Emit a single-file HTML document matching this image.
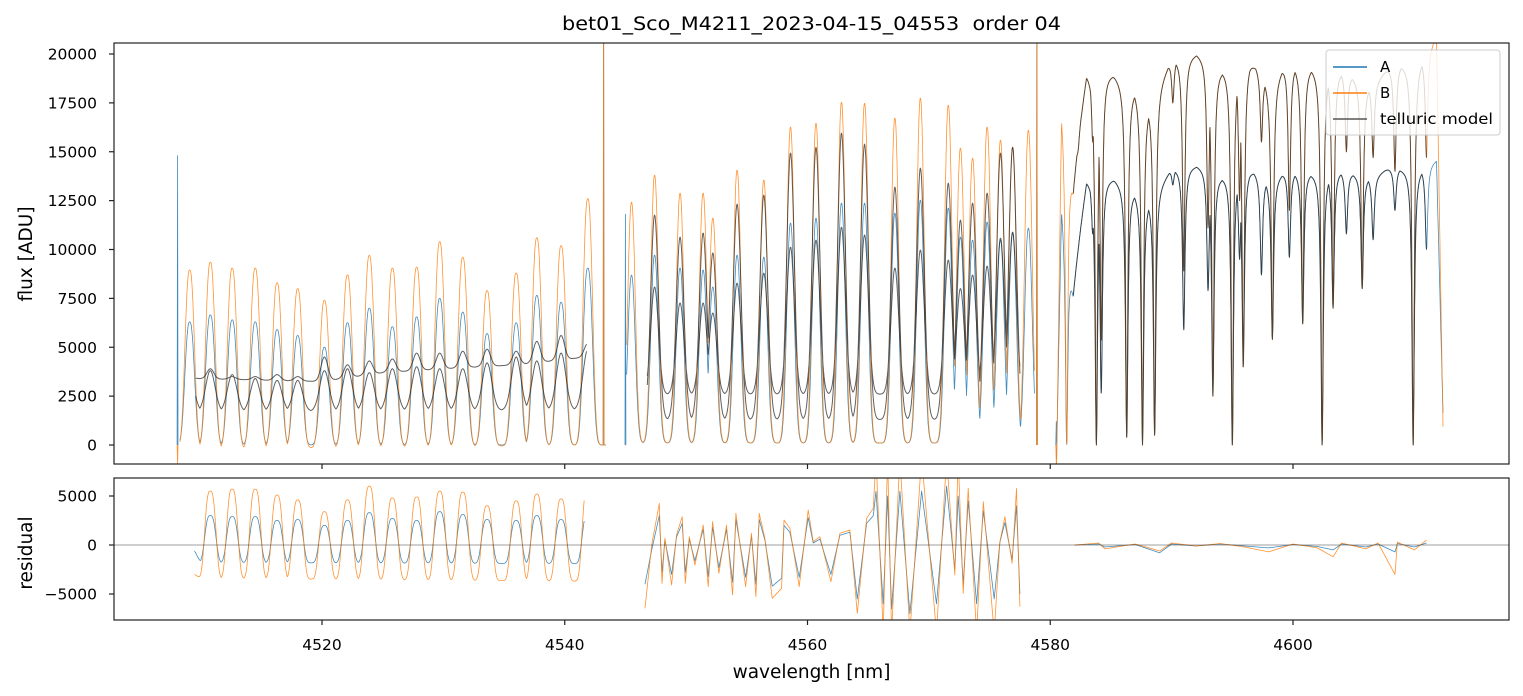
<!DOCTYPE html>
<html><head><meta charset="utf-8"><style>
html,body{margin:0;padding:0;background:#fff}
svg{display:block;font-family:"DejaVu Sans","Liberation Sans",sans-serif}
</style></head><body>
<svg id="chart" width="1523" height="696" viewBox="0 0 1523 696" xmlns="http://www.w3.org/2000/svg">
<defs>
<clipPath id="clipTop"><rect x="114" y="43" width="1395" height="421"/></clipPath>
<clipPath id="clipBot"><rect x="114" y="478" width="1395" height="142"/></clipPath>
</defs>
<text x="811.5" y="30" text-anchor="middle" font-size="18.5" textLength="499" lengthAdjust="spacingAndGlyphs" fill="#000">bet01_Sco_M4211_2023-04-15_04553&#160; order 04</text>
<text transform="translate(32,254) rotate(-90)" text-anchor="middle" font-size="18.5" fill="#000">flux [ADU]</text>
<text transform="translate(32,553) rotate(-90)" text-anchor="middle" font-size="18.5" fill="#000">residual</text>
<text x="811.5" y="678" text-anchor="middle" font-size="18.5" fill="#000">wavelength [nm]</text>
<g id="topData" clip-path="url(#clipTop)"></g>
<g id="botData" clip-path="url(#clipBot)"></g>
<g id="axes"></g>
<g>
<rect x="1326" y="50" width="174" height="85" rx="3" fill="#fff" fill-opacity="0.8" stroke="#ccc" stroke-width="1"/>
<line x1="1333" y1="67" x2="1367" y2="67" stroke="#1f77b4" stroke-width="1.5"/>
<text x="1380" y="72" font-size="15">A</text>
<line x1="1333" y1="93" x2="1367" y2="93" stroke="#ff7f0e" stroke-width="1.5"/>
<text x="1380" y="98" font-size="15">B</text>
<line x1="1333" y1="119" x2="1367" y2="119" stroke="#555" stroke-width="1.5"/>
<text x="1380" y="124" font-size="15" textLength="113" lengthAdjust="spacingAndGlyphs">telluric model</text>
</g>
</svg>
<script>
const xTicks = [4520, 4540, 4560, 4580, 4600];
const yTicksTop = [0, 2500, 5000, 7500, 10000, 12500, 15000, 17500, 20000];
const yTicksBot = [-5000, 0, 5000];

const r1Wl = [4509.1,4510.8,4512.6,4514.5,4516.3,4518.0,4520.2,4522.1,4523.9,4525.8,4527.8,4529.7,4531.6,4533.6,4536.0,4537.7,4539.7,4541.9];
const r1B = [8950,9350,9050,9050,8300,8000,7400,8700,9700,9050,9100,10400,9600,7900,8800,10600,10200,12600];
const r1A = [6300,6650,6400,6300,5900,5600,5000,6250,7000,6050,6550,7500,6800,5700,6250,7650,7300,9050];
const r1BaseWl = [4508.3,4543.4];
const r1BaseA = [0,0];
const r1BaseB = [-200,0];
const r1ModelLo = [3500,3800,3600,3400,3300,3300,3800,3900,3700,3900,4000,3900,3900,4200,4500,4300,4700,4900];
const r1ModelHi = [3500,3900,3500,3500,3600,3500,4500,4100,4300,4400,4700,4700,4800,4900,4800,5300,5600,5200];
const r1ModelLoBaseWl = [4509.6,4541.8];
const r1ModelLoBase = [1700,1800];
const r1ModelHiBaseWl = [4509.6,4520,4525,4530,4536,4541.8];
const r1ModelHiBase = [3400,3250,3700,3900,4100,4500];

const r2Wl = [4545.5,4547.4,4549.5,4551.4,4552.2,4554.2,4556.4,4558.6,4560.7,4562.8,4564.7,4567.2,4569.3,4571.6,4572.6,4573.6,4574.8,4575.9,4576.9,4578.2];
const r2B = [12420,13800,12880,12880,11600,14060,13550,16260,16460,17530,17480,16720,17740,17380,15180,14670,16260,15590,15230,16100];
const r2A = [8690,9710,9050,8950,8080,9710,9610,11350,11600,12370,12370,11860,12520,12120,10630,10480,11400,10480,10840,11090];
const r2BaseWl = [4545.0,4578.7];
const r2BaseA = [100,100];
const r2BaseB = [100,100];
const r2ModelWl = [4547.4,4549.5,4551.4,4552.2,4554.2,4556.4,4558.6,4560.7,4562.8,4564.7,4567.2,4569.3,4571.6,4572.6,4573.6,4574.8,4575.9,4576.9];
const r2ModelHi = [11760,10630,10840,9820,12320,12780,14930,15230,15950,15390,13190,14160,13390,11500,12370,12880,14930,15230];
const r2ModelLo = [8080,7260,7260,6750,8280,8790,10120,10480,11140,10740,9050,9970,9460,8000,8690,9150,10580,10890];
const r2ModelBaseWl = [4546.8,4577.5];
const r2ModelHiBase = [1300,1300];
const r2ModelLoBase = [2600,2600];

const r3ContWl = [4580.52,4580.93,4581.89,4582.99,4585.32,4587.11,4588.07,4590.0,4592.05,4594.11,4596.44,4598.09,4599.46,4601.52,4603.85,4606.6,4607.83,4610.72,4611.82,4612.37];
const r3ContB = [-900,17740,13550,19170,19000,18300,17640,19780,20040,19320,19830,18500,19580,19420,19250,18400,19320,19900,21000,610];
const r3ContA = [-500,12680,8080,13650,13650,13000,12680,14160,14310,13800,14160,13550,14050,13970,14050,13720,14160,14240,14600,1430];
const r3DipWl = [4581.35,4582.3,4583.5,4583.8,4584.2,4586.3,4587.6,4588.6,4590.1,4591.0,4593.0,4593.4,4595.0,4595.6,4595.9,4597.4,4598.3,4599.7,4600.8,4602.4,4603.3,4604.4,4605.7,4606.6,4608.4,4609.9,4611.0];
const r3DipB = [0,15080,15500,0,5370,400,0,500,17500,8900,11100,2500,0,12500,4000,15500,5400,12000,6200,0,7000,15000,8000,14700,14000,0,14700];
const r3DipA = [0,10630,10800,0,2660,400,0,500,13300,5900,7900,2500,0,9500,4000,8700,5400,9600,6200,0,7000,10800,8000,10500,12000,0,10000];

const spikeWl = [4508.1,4543.2,4545.0,4578.9,4580.5];
const spikeA = [14800,25000,11800,25000,1200];
const spikeB = [-1000,25000,0,25000,-1000];

const res1Wl = [4510.8,4512.6,4514.5,4516.3,4518.0,4520.2,4522.1,4523.9,4525.8,4527.8,4529.7,4531.6,4533.6,4536.0,4537.7,4539.7,4541.9];
const res1B = [5500,5700,5700,5100,4600,3400,4600,6000,4800,4900,5500,5400,4000,4500,5200,4700,6000];
const res1A = [3000,2900,2900,2500,2600,2000,2500,3300,2700,2500,3400,3100,2600,2500,3000,2600,3200];
const res1BaseWl = [4509.5,4510,4541.6];
const res1BaseB = [-3000,-3400,-3700];
const res1BaseA = [-600,-1800,-1900];

const res2Wl = [4546.61,4547.16,4547.79,4548.01,4548.25,4548.80,4549.21,4549.68,4549.93,4550.26,4550.72,4551.41,4551.82,4552.18,4552.70,4553.33,4553.83,4554.10,4554.90,4555.39,4555.75,4556.02,4556.49,4557.09,4557.87,4558.06,4558.55,4559.32,4560.06,4560.47,4561.02,4561.93,4562.67,4563.49,4564.10,4564.87,4565.42,4565.64,4566.24,4566.60,4566.93,4567.61,4568.44,4569.40,4570.63,4571.46,4572.14,4572.42,4572.83,4573.24,4573.93,4574.48,4575.38,4575.85,4576.26,4576.86,4577.22,4577.50];
const res2B = [-6460,0,4250,-3910,680,-4080,1020,2890,-3910,850,-2040,2040,-4250,2380,-2890,2040,-5100,3230,-4250,1190,-5270,3230,680,-5440,-4420,2550,1700,-4250,3570,340,850,-3740,1190,1530,-6970,2720,3740,9000,-9000,9000,-9000,9000,-9000,9000,-9000,9000,-3060,9000,-4930,5780,-9000,4420,-9000,340,2890,-1870,5780,-6290];
const res2A = [-4000,-500,3000,-2800,500,-3000,800,2200,-2800,600,-1600,1600,-3200,1800,-2300,1600,-3800,2600,-3300,900,-4000,2600,500,-4200,-3400,2000,1300,-3300,2800,200,600,-3000,1000,1300,-5500,2200,3000,5500,-6000,5000,-6500,5500,-7000,5500,-6000,6000,-2500,5000,-4000,4500,-6000,3500,-5500,300,2300,-1500,4000,-5000];

const res3Wl = [4582.0,4584.0,4584.5,4587.0,4589.0,4590.0,4592.0,4594.0,4596.0,4598.0,4600.0,4602.0,4603.3,4604.0,4606.0,4607.0,4608.4,4608.6,4610.0,4611.0];
const res3B = [0,200,-400,100,-600,200,-100,150,-200,-700,100,-300,-1200,200,-400,200,-3000,300,-500,500];
const res3A = [0,100,-200,50,-800,100,-100,100,-100,-300,50,-150,-500,100,-200,100,-700,150,-200,200];

const NS = 'http://www.w3.org/2000/svg';
const X0 = 114, WL0 = 4502.863, PXNM = 12.1375;
function xs(w){ return X0 + (w - WL0) * PXNM; }
function yt(v){ return 445 - v * 391 / 20000; }
function yb(v){ return 545 - v * 49 / 5000; }
function interp(wl, vals, x){
  if (x <= wl[0]) return vals[0];
  for (let i = 1; i < wl.length; i++) if (x <= wl[i]) { const t = (x - wl[i-1]) / (wl[i] - wl[i-1]); return vals[i-1] + t * (vals[i] - vals[i-1]); }
  return vals[vals.length - 1];
}
function peaks(x, wl, pk, bWl, bV, s, p){
  const b = interp(bWl, bV, x); let m = 0;
  for (let i = 0; i < wl.length; i++){ const d = Math.abs((x - wl[i]) / s); if (d > 4) continue; const a = (pk[i] - b) * Math.exp(-Math.pow(d, p)); if (a > m) m = a; }
  return b + m;
}
function dips(x, cWl, cV, wl, dv, s){
  const c = interp(cWl, cV, x); let m = 0;
  for (let i = 0; i < wl.length; i++){ const d = (x - wl[i]) / s; if (Math.abs(d) > 20) continue; const a = (interp(cWl, cV, wl[i]) - dv[i]) / (1 + d*d); if (a > m) m = a; }
  return c - m;
}
function pathFrom(fn, w0, w1, ys){
  let d = ''; const step = 0.02;
  for (let w = w0; w <= w1 + 1e-9; w += step){ d += (d ? 'L' : 'M') + xs(w).toFixed(1) + ',' + ys(fn(w)).toFixed(1); }
  return d;
}
function knotPath(wl, v, ys){ return wl.map((w,i)=> (i?'L':'M') + xs(w).toFixed(1) + ',' + ys(v[i]).toFixed(1)).join(''); }
function addPath(parent, d, color, width, op, name){
  const p = document.createElementNS(NS, 'path');
  p.setAttribute('d', d); p.setAttribute('fill', 'none'); p.setAttribute('stroke', color);
  p.setAttribute('stroke-width', width); p.setAttribute('stroke-opacity', op); p.setAttribute('stroke-linejoin', 'round');
  
  
  parent.appendChild(p);
}
const topG = document.getElementById('topData');
const botG = document.getElementById('botData');
const CA = '#1f77b4', CB = '#ff7f0e', CM = '#222';

function drawSeries(which){
  const isA = which === 'A';
  const col = isA ? CA : CB;
  let d = pathFrom(w => peaks(w, r1Wl, isA ? r1A : r1B, r1BaseWl, isA ? r1BaseA : r1BaseB, 0.5, 2.5), 4508.3, 4543.4, yt);
  d += pathFrom(w => peaks(w, r2Wl, isA ? r2A : r2B, r2BaseWl, isA ? r2BaseA : r2BaseB, 0.42, 2.2), 4545.1, 4578.7, yt);
  d += pathFrom(w => dips(w, r3ContWl, isA ? r3ContA : r3ContB, r3DipWl, isA ? r3DipA : r3DipB, 0.12), 4580.52, 4612.37, yt);
  spikeWl.forEach((w,i)=>{ const v = isA ? spikeA[i] : spikeB[i]; d += 'M' + xs(w-0.04).toFixed(1) + ',' + yt(0).toFixed(1) + 'L' + xs(w).toFixed(1) + ',' + yt(v).toFixed(1) + 'L' + xs(w+0.04).toFixed(1) + ',' + yt(0).toFixed(1); });
  addPath(topG, d, col, 0.8, 0.85, isA ? 'series-a-flux' : 'series-b-flux');
}
drawSeries('A');
drawSeries('B');
let md = pathFrom(w => peaks(w, r1Wl, r1ModelLo, r1ModelLoBaseWl, r1ModelLoBase, 0.55, 2), 4509.6, 4541.8, yt);
md += pathFrom(w => peaks(w, r1Wl, r1ModelHi, r1ModelHiBaseWl, r1ModelHiBase, 0.4, 2), 4509.6, 4541.8, yt);
md += pathFrom(w => peaks(w, r2ModelWl, r2ModelHi, r2ModelBaseWl, r2ModelHiBase, 0.45, 2), 4546.8, 4577.5, yt);
md += pathFrom(w => peaks(w, r2ModelWl, r2ModelLo, r2ModelBaseWl, r2ModelLoBase, 0.45, 2), 4546.8, 4577.5, yt);
md += pathFrom(w => dips(w, r3ContWl, r3ContA, r3DipWl, r3DipA, 0.12), 4581.9, 4611.0, yt);
md += pathFrom(w => dips(w, r3ContWl, r3ContB, r3DipWl, r3DipB, 0.12), 4581.9, 4611.0, yt);
addPath(topG, md, CM, 1.0, 0.72, 'telluric-model-line');

let ra = pathFrom(w => peaks(w, res1Wl, res1A, res1BaseWl, res1BaseA, 0.55, 3), 4509.5, 4541.6, yb) + knotPath(res2Wl, res2A, yb) + knotPath(res3Wl, res3A, yb);
let rb = pathFrom(w => peaks(w, res1Wl, res1B, res1BaseWl, res1BaseB, 0.55, 3), 4509.5, 4541.6, yb) + knotPath(res2Wl, res2B, yb) + knotPath(res3Wl, res3B, yb);
addPath(botG, ra, CA, 0.8, 0.85, 'residual-a');
addPath(botG, rb, CB, 0.8, 0.85, 'residual-b');

const ax = document.getElementById('axes');
function el(tag, attrs, name, text){
  const e = document.createElementNS(NS, tag);
  for (const k in attrs) e.setAttribute(k, attrs[k]);
  
  
  if (text !== undefined) e.textContent = text;
  ax.appendChild(e); return e;
}
el('line', {x1:114, y1:yb(0), x2:1509, y2:yb(0), stroke:'#000', 'stroke-width':0.8, 'stroke-opacity':0.5}, 'residual-zero-line');
el('rect', {x:114, y:43, width:1395, height:421, fill:'none', stroke:'#222', 'stroke-width':1.2}, 'flux-axes-frame');
el('rect', {x:114, y:478, width:1395, height:142, fill:'none', stroke:'#222', 'stroke-width':1.2}, 'residual-axes-frame');
xTicks.forEach(t => {
  const x = xs(t);
  el('line', {x1:x, y1:464, x2:x, y2:469, stroke:'#222', 'stroke-width':1.2}, 'x-tick-top');
  el('line', {x1:x, y1:620, x2:x, y2:625, stroke:'#222', 'stroke-width':1.2}, 'x-tick');
  el('text', {x:x, y:650, 'text-anchor':'middle', 'font-size':15.5, fill:'#000'}, 'x-tick-label', String(t));
});
yTicksTop.forEach(t => {
  const y = yt(t);
  el('line', {x1:109, y1:y, x2:114, y2:y, stroke:'#222', 'stroke-width':1.2}, 'y-tick-flux');
  el('text', {x:97, y:y+5.5, 'text-anchor':'end', 'font-size':15.5, fill:'#000'}, 'y-tick-label-flux', String(t));
});
yTicksBot.forEach(t => {
  const y = yb(t);
  el('line', {x1:109, y1:y, x2:114, y2:y, stroke:'#222', 'stroke-width':1.2}, 'y-tick-residual');
  el('text', {x:97, y:y+5.5, 'text-anchor':'end', 'font-size':15.5, fill:'#000'}, 'y-tick-label-residual', t < 0 ? '\u2212' + Math.abs(t) : String(t));
});
</script>
</body></html>
